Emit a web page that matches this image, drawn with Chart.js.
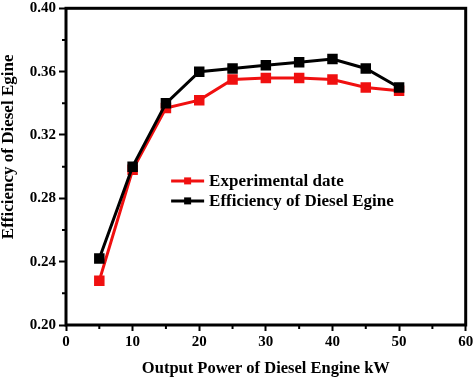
<!DOCTYPE html>
<html><head><meta charset="utf-8">
<script src="https://cdn.jsdelivr.net/npm/chart.js@4/dist/chart.umd.min.js"></script>
<style>html,body{margin:0;padding:0;background:#fff}#wrap{width:474px;height:379px}</style>
</head><body><div id="wrap"><canvas id="c" width="474" height="379"></canvas></div>
<script>
const power = [5, 10, 15, 20, 25, 30, 35, 40, 45, 50];
const experimental = [0.228, 0.298, 0.337, 0.342, 0.355, 0.356, 0.356, 0.355, 0.350, 0.348];
const efficiency = [0.242, 0.300, 0.340, 0.360, 0.362, 0.364, 0.366, 0.368, 0.362, 0.350];
const xTicks = [0, 10, 20, 30, 40, 50, 60];
const yTicks = [0.20, 0.24, 0.28, 0.32, 0.36, 0.40];
const xMinor = [5, 15, 25, 35, 45, 55];
const yMinor = [0.22, 0.26, 0.30, 0.34, 0.38];
const seriesNames = ['Experimental date', 'Efficiency of Diesel Egine'];
const seriesColors = ['#f01010', '#000000'];
const xTitle = 'Output Power of Diesel Engine kW';
const yTitle = 'Efficiency of Diesel Egine';

const FONT = "'Liberation Serif', 'Times New Roman', serif";

const framePlugin = {
  id: 'frame',
  afterDraw(chart) {
    const ctx = chart.ctx, a = chart.chartArea;
    const xs = chart.scales.x, ys = chart.scales.y;
    ctx.save();
    ctx.strokeStyle = '#000';
    ctx.lineWidth = 3;
    ctx.strokeRect(a.left, a.top, a.right - a.left, a.bottom - a.top);
    ctx.lineWidth = 2;
    ctx.beginPath();
    xMinor.forEach(v => { const p = xs.getPixelForValue(v); ctx.moveTo(p, a.bottom); ctx.lineTo(p, a.bottom + 4); });
    yMinor.forEach(v => { const p = ys.getPixelForValue(v); ctx.moveTo(a.left, p); ctx.lineTo(a.left - 4, p); });
    ctx.stroke();
    // y axis title
    ctx.save();
    ctx.translate(8.5, a.top + (a.bottom - a.top) * 0.4375);
    ctx.rotate(-Math.PI / 2);
    ctx.fillStyle = '#000';
    ctx.font = "bold 17px " + FONT;
    ctx.textAlign = 'center';
    ctx.textBaseline = 'middle';
    ctx.fillText(yTitle, 0, 0);
    ctx.restore();
    // legend
    const lx = a.left + (a.right - a.left) * 0.263;
    const ly = a.top + (a.bottom - a.top) * 0.545;
    const gap = 20;
    chart.data.datasets.forEach((ds, i) => {
      const y = ly + i * gap;
      ctx.strokeStyle = ds.borderColor;
      ctx.lineWidth = 3;
      ctx.beginPath(); ctx.moveTo(lx, y); ctx.lineTo(lx + 33, y); ctx.stroke();
      ctx.fillStyle = ds.borderColor;
      ctx.fillRect(lx + 16.5 - 3.5, y - 3.5, 7, 7);
      ctx.fillStyle = '#000';
      ctx.font = "bold 17px " + FONT;
      ctx.textBaseline = 'middle';
      ctx.textAlign = 'left';
      ctx.fillText(ds.label, lx + 38, y + 1);
    });
    ctx.restore();
  }
};

const tickFont = { family: FONT, size: 15, weight: 'bold' };

new Chart(document.getElementById('c'), {
  type: 'line',
  data: {
    datasets: [
      { label: seriesNames[0], data: power.map((x, i) => ({ x, y: experimental[i] })), borderColor: seriesColors[0], backgroundColor: seriesColors[0], borderWidth: 3, pointStyle: 'rect', pointRadius: 5.3, pointHoverRadius: 5.3, order: 1, tension: 0 },
      { label: seriesNames[1], data: power.map((x, i) => ({ x, y: efficiency[i] })), borderColor: seriesColors[1], backgroundColor: seriesColors[1], borderWidth: 3, pointStyle: 'rect', pointRadius: 5.3, pointHoverRadius: 5.3, order: 0, tension: 0 }
    ]
  },
  options: {
    responsive: false,
    devicePixelRatio: 1,
    animation: false,
    layout: { padding: { top: 5, right: 7, left: 0, bottom: 0 } },
    plugins: { legend: { display: false }, tooltip: { enabled: false } },
    scales: {
      x: {
        type: 'linear', min: 0, max: 60,
        afterBuildTicks: s => { s.ticks = xTicks.map(v => ({ value: v })); },
        afterFit: s => { s.height = 54; s.paddingLeft = 0; s.paddingRight = 0; },
        ticks: { font: tickFont, color: '#000', padding: 2, maxRotation: 0 },
        grid: { drawOnChartArea: false, drawTicks: true, tickLength: 6, tickWidth: 2, tickColor: '#000', color: '#000' },
        border: { display: false },
        title: { display: true, text: xTitle, font: { family: FONT, size: 16.5, weight: 'bold' }, color: '#000', padding: { top: 1.5, bottom: 0 } }
      },
      y: {
        type: 'linear', min: 0.2, max: 0.4,
        afterBuildTicks: s => { s.ticks = yTicks.map(v => ({ value: v })); },
        afterFit: s => { s.width = 66; s.paddingTop = 0; s.paddingBottom = 0; },
        ticks: { font: tickFont, color: '#000', padding: 3, callback: v => v.toFixed(2) },
        grid: { drawOnChartArea: false, drawTicks: true, tickLength: 7, tickWidth: 2, tickColor: '#000', color: '#000' },
        border: { display: false },
        title: { display: false }
      }
    }
  },
  plugins: [framePlugin]
});
</script>
</body></html>
